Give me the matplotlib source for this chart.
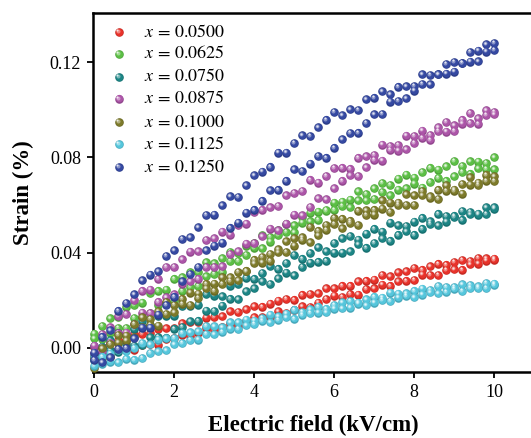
import matplotlib
matplotlib.use("Agg")
import matplotlib.pyplot as plt
from matplotlib import transforms
from matplotlib.colors import to_rgb

plt.rcParams["font.family"] = ["Liberation Serif", "DejaVu Serif"]
plt.rcParams["mathtext.fontset"] = "stix"

# field steps (kV/cm), shared by rising and falling branch
field = [0.0, 0.2, 0.4, 0.6, 0.8, 1.0, 1.2, 1.4, 1.6, 1.8,
         2.0, 2.2, 2.4, 2.6, 2.8, 3.0, 3.2, 3.4, 3.6, 3.8,
         4.0, 4.2, 4.4, 4.6, 4.8, 5.0, 5.2, 5.4, 5.6, 5.8,
         6.0, 6.2, 6.4, 6.6, 6.8, 7.0, 7.2, 7.4, 7.6, 7.8,
         8.0, 8.2, 8.4, 8.6, 8.8, 9.0, 9.2, 9.4, 9.6, 9.8, 10.0]

compositions = ["0.0500", "0.0625", "0.0750", "0.0875", "0.1000", "0.1125", "0.1250"]
colors = ["#e8322a", "#5cbf45", "#1c8585", "#ac55a8", "#7d7a2a", "#55c6dc", "#3549a2"]

# strain (%): upper branch, lower branch
red_up = [0.0005, 0.0005, 0.0020, 0.0033, 0.0035, 0.0058, 0.0058, 0.0063, 0.0079, 0.0082,
          0.0082, 0.0103, 0.0109, 0.0109, 0.0127, 0.0130, 0.0133, 0.0154, 0.0151, 0.0162,
          0.0175, 0.0173, 0.0186, 0.0199, 0.0205, 0.0202, 0.0223, 0.0226, 0.0229, 0.0250,
          0.0250, 0.0261, 0.0261, 0.0279, 0.0282, 0.0287, 0.0306, 0.0301, 0.0317, 0.0322,
          0.0335, 0.0328, 0.0342, 0.0353, 0.0349, 0.0360, 0.0369, 0.0365, 0.0377, 0.0376, 0.0375]
red_dn = [-0.0040, -0.0024, -0.0029, -0.0006, -0.0008, -0.0008, 0.0013, 0.0016, 0.0014, 0.0037,
          0.0040, 0.0056, 0.0051, 0.0064, 0.0082, 0.0075, 0.0088, 0.0101, 0.0094, 0.0112,
          0.0128, 0.0128, 0.0131, 0.0154, 0.0147, 0.0160, 0.0175, 0.0172, 0.0190, 0.0205,
          0.0220, 0.0213, 0.0226, 0.0224, 0.0247, 0.0250, 0.0266, 0.0261, 0.0279, 0.0282,
          0.0285, 0.0308, 0.0306, 0.0306, 0.0327, 0.0330, 0.0328, 0.0351, 0.0354, 0.0367, 0.0370]
green_up = [0.0060, 0.0092, 0.0124, 0.0131, 0.0173, 0.0180, 0.0190, 0.0230, 0.0240, 0.0245,
            0.0290, 0.0296, 0.0317, 0.0318, 0.0359, 0.0355, 0.0376, 0.0402, 0.0398, 0.0429,
            0.0440, 0.0473, 0.0466, 0.0494, 0.0522, 0.0515, 0.0549, 0.0568, 0.0572, 0.0576,
            0.0610, 0.0614, 0.0623, 0.0657, 0.0646, 0.0670, 0.0692, 0.0684, 0.0711, 0.0728,
            0.0715, 0.0738, 0.0756, 0.0749, 0.0762, 0.0785, 0.0764, 0.0783, 0.0782, 0.0776, 0.0800]
green_dn = [0.0040, 0.0036, 0.0062, 0.0083, 0.0084, 0.0125, 0.0130, 0.0145, 0.0180, 0.0190,
            0.0195, 0.0240, 0.0255, 0.0260, 0.0300, 0.0310, 0.0320, 0.0365, 0.0365, 0.0390,
            0.0420, 0.0418, 0.0446, 0.0474, 0.0487, 0.0485, 0.0526, 0.0532, 0.0538, 0.0579,
            0.0580, 0.0595, 0.0590, 0.0620, 0.0620, 0.0625, 0.0655, 0.0640, 0.0665, 0.0670,
            0.0690, 0.0673, 0.0696, 0.0714, 0.0702, 0.0720, 0.0738, 0.0731, 0.0754, 0.0752, 0.0750]
teal_up = [0.0010, 0.0006, 0.0032, 0.0063, 0.0054, 0.0080, 0.0114, 0.0098, 0.0132, 0.0136,
           0.0135, 0.0174, 0.0178, 0.0182, 0.0226, 0.0220, 0.0216, 0.0262, 0.0268, 0.0294,
           0.0290, 0.0314, 0.0343, 0.0332, 0.0356, 0.0390, 0.0374, 0.0398, 0.0422, 0.0406,
           0.0440, 0.0460, 0.0470, 0.0455, 0.0480, 0.0500, 0.0488, 0.0526, 0.0514, 0.0512,
           0.0530, 0.0546, 0.0532, 0.0563, 0.0554, 0.0550, 0.0575, 0.0570, 0.0560, 0.0590, 0.0585]
teal_dn = [-0.0050, -0.0030, -0.0010, -0.0015, 0.0015, 0.0010, 0.0012, 0.0044, 0.0046, 0.0043,
           0.0080, 0.0088, 0.0111, 0.0114, 0.0157, 0.0155, 0.0178, 0.0206, 0.0204, 0.0237,
           0.0250, 0.0279, 0.0268, 0.0292, 0.0316, 0.0305, 0.0339, 0.0358, 0.0362, 0.0366,
           0.0400, 0.0400, 0.0405, 0.0435, 0.0420, 0.0440, 0.0460, 0.0450, 0.0475, 0.0490,
           0.0475, 0.0500, 0.0520, 0.0515, 0.0530, 0.0555, 0.0538, 0.0561, 0.0564, 0.0562, 0.0590]
magenta_up = [0.0010, 0.0058, 0.0086, 0.0134, 0.0142, 0.0200, 0.0240, 0.0245, 0.0290, 0.0340,
              0.0340, 0.0372, 0.0404, 0.0406, 0.0453, 0.0460, 0.0488, 0.0476, 0.0514, 0.0522,
              0.0570, 0.0580, 0.0590, 0.0595, 0.0640, 0.0650, 0.0658, 0.0706, 0.0694, 0.0722,
              0.0755, 0.0756, 0.0752, 0.0798, 0.0804, 0.0810, 0.0854, 0.0848, 0.0852, 0.0891,
              0.0890, 0.0912, 0.0894, 0.0926, 0.0948, 0.0935, 0.0958, 0.0986, 0.0964, 0.0997, 0.0990]
magenta_dn = [-0.0020, -0.0014, 0.0022, 0.0063, 0.0064, 0.0100, 0.0148, 0.0146, 0.0194, 0.0212,
              0.0225, 0.0270, 0.0280, 0.0290, 0.0340, 0.0340, 0.0342, 0.0394, 0.0406, 0.0438,
              0.0440, 0.0468, 0.0501, 0.0494, 0.0522, 0.0560, 0.0556, 0.0592, 0.0628, 0.0624,
              0.0670, 0.0702, 0.0724, 0.0721, 0.0758, 0.0790, 0.0786, 0.0832, 0.0828, 0.0834,
              0.0860, 0.0882, 0.0874, 0.0911, 0.0908, 0.0910, 0.0942, 0.0944, 0.0941, 0.0978, 0.0980]
olive_up = [-0.0040, -0.0002, 0.0016, 0.0054, 0.0052, 0.0100, 0.0128, 0.0121, 0.0154, 0.0192,
            0.0180, 0.0206, 0.0232, 0.0228, 0.0269, 0.0270, 0.0296, 0.0282, 0.0318, 0.0324,
            0.0370, 0.0382, 0.0394, 0.0401, 0.0448, 0.0460, 0.0464, 0.0508, 0.0492, 0.0516,
            0.0545, 0.0542, 0.0534, 0.0576, 0.0578, 0.0580, 0.0620, 0.0610, 0.0610, 0.0645,
            0.0640, 0.0658, 0.0636, 0.0664, 0.0682, 0.0665, 0.0688, 0.0716, 0.0694, 0.0727, 0.0720]
olive_dn = [-0.0085, -0.0041, -0.0037, 0.0022, 0.0031, 0.0045, 0.0088, 0.0096, 0.0094, 0.0142,
            0.0150, 0.0185, 0.0180, 0.0210, 0.0250, 0.0240, 0.0268, 0.0296, 0.0284, 0.0322,
            0.0355, 0.0358, 0.0366, 0.0414, 0.0402, 0.0430, 0.0454, 0.0443, 0.0472, 0.0496,
            0.0520, 0.0502, 0.0524, 0.0516, 0.0558, 0.0560, 0.0585, 0.0570, 0.0600, 0.0600,
            0.0600, 0.0640, 0.0630, 0.0625, 0.0660, 0.0660, 0.0648, 0.0686, 0.0684, 0.0702, 0.0700]
cyan_up = [-0.0035, -0.0037, -0.0024, -0.0008, -0.0013, 0.0000, 0.0020, 0.0015, 0.0035, 0.0040,
           0.0042, 0.0063, 0.0066, 0.0069, 0.0092, 0.0090, 0.0086, 0.0107, 0.0108, 0.0119,
           0.0115, 0.0126, 0.0140, 0.0133, 0.0144, 0.0160, 0.0151, 0.0162, 0.0173, 0.0164,
           0.0180, 0.0191, 0.0197, 0.0190, 0.0204, 0.0215, 0.0211, 0.0232, 0.0228, 0.0229,
           0.0240, 0.0249, 0.0243, 0.0260, 0.0256, 0.0255, 0.0267, 0.0264, 0.0258, 0.0273, 0.0270]
cyan_dn = [-0.0075, -0.0066, -0.0057, -0.0061, -0.0046, -0.0050, -0.0043, -0.0021, -0.0014, -0.0010,
           0.0015, 0.0020, 0.0033, 0.0035, 0.0058, 0.0057, 0.0068, 0.0081, 0.0079, 0.0095,
           0.0100, 0.0114, 0.0107, 0.0118, 0.0129, 0.0122, 0.0139, 0.0147, 0.0148, 0.0149,
           0.0165, 0.0166, 0.0169, 0.0186, 0.0179, 0.0190, 0.0201, 0.0197, 0.0211, 0.0219,
           0.0212, 0.0224, 0.0233, 0.0229, 0.0236, 0.0248, 0.0239, 0.0251, 0.0252, 0.0251, 0.0265]
blue_up = [-0.0020, 0.0047, 0.0074, 0.0156, 0.0188, 0.0225, 0.0284, 0.0308, 0.0322, 0.0386,
           0.0410, 0.0457, 0.0464, 0.0506, 0.0558, 0.0560, 0.0598, 0.0636, 0.0634, 0.0682,
           0.0725, 0.0740, 0.0760, 0.0820, 0.0820, 0.0860, 0.0892, 0.0889, 0.0926, 0.0958,
           0.0990, 0.0976, 0.1002, 0.0998, 0.1044, 0.1050, 0.1077, 0.1064, 0.1096, 0.1098,
           0.1100, 0.1148, 0.1146, 0.1149, 0.1192, 0.1200, 0.1196, 0.1242, 0.1248, 0.1274, 0.1280]
blue_dn = [-0.0050, -0.0060, -0.0040, -0.0005, 0.0000, 0.0040, 0.0085, 0.0085, 0.0140, 0.0180,
           0.0215, 0.0280, 0.0310, 0.0340, 0.0410, 0.0430, 0.0442, 0.0504, 0.0526, 0.0568,
           0.0580, 0.0618, 0.0661, 0.0664, 0.0702, 0.0750, 0.0742, 0.0774, 0.0806, 0.0798,
           0.0840, 0.0876, 0.0902, 0.0903, 0.0944, 0.0980, 0.0982, 0.1034, 0.1036, 0.1048,
           0.1080, 0.1108, 0.1106, 0.1149, 0.1152, 0.1160, 0.1196, 0.1202, 0.1203, 0.1244, 0.1250]

branches = [(red_up, red_dn), (green_up, green_dn), (teal_up, teal_dn), (magenta_up, magenta_dn),
            (olive_up, olive_dn), (cyan_up, cyan_dn), (blue_up, blue_dn)]


def lighten(c, f):
    r, g, b = to_rgb(c)
    return (r + (1 - r) * f, g + (1 - g) * f, b + (1 - b) * f)


def darken(c, f):
    r, g, b = to_rgb(c)
    return (r * (1 - f), g * (1 - f), b * (1 - f))


def spheres(ax, xs, ys, color, transform, size=38):
    """Shaded balls: dark rim, body, soft highlight up-left."""
    fig = ax.figure

    def shifted(dx, dy):
        return transforms.offset_copy(transform, fig, x=dx, y=dy, units="dots")

    kw = dict(lw=0, zorder=3, clip_on=False)
    ax.scatter(xs, ys, s=size, color=darken(color, 0.15), transform=transform, **kw)
    ax.scatter(xs, ys, s=size * 0.72, color=color, transform=shifted(-0.4, 0.4), **kw)
    ax.scatter(xs, ys, s=size * 0.22, color=lighten(color, 0.4), transform=shifted(-1.1, 1.2), **kw)
    ax.scatter(xs, ys, s=size * 0.06, color=lighten(color, 0.85), transform=shifted(-1.5, 1.7), **kw)


fig = plt.figure(figsize=(5.31, 4.38), dpi=100)
ax = fig.add_axes([0.1751, 0.1507, 0.8310, 0.8196])

for (up, dn), c in zip(branches, colors):
    spheres(ax, field + field, up + dn, c, ax.transData)

ax.set_xlim(-0.03, 11.0)
ax.set_ylim(-0.0101, 0.1406)
ax.set_xticks([0, 2, 4, 6, 8, 10])
ax.set_yticks([0.00, 0.04, 0.08, 0.12])
ax.set_yticklabels(["0.00", "0.04", "0.08", "0.12"])

for s in ax.spines.values():
    s.set_linewidth(1.8)
ax.spines["right"].set_visible(False)
ax.tick_params(direction="out", length=4.5, width=1.3, labelsize=13, pad=4)

ax.set_xlabel("Electric field (kV/cm)", fontsize=16.5, fontweight="bold", labelpad=10)
ax.set_ylabel("Strain (%)", fontsize=16.5, fontweight="bold", labelpad=11)

# legend drawn by hand so the markers keep the shaded look
leg_y = [0.947, 0.886, 0.822, 0.761, 0.696, 0.635, 0.571]
for comp, c, yy in zip(compositions, colors, leg_y):
    spheres(ax, [0.0589], [yy], c, ax.transAxes)
    ax.text(0.1156, yy, rf"$x\,=\,{comp}$", transform=ax.transAxes, fontsize=13,
            va="center", ha="left")

fig.savefig("out.png", dpi=100)
